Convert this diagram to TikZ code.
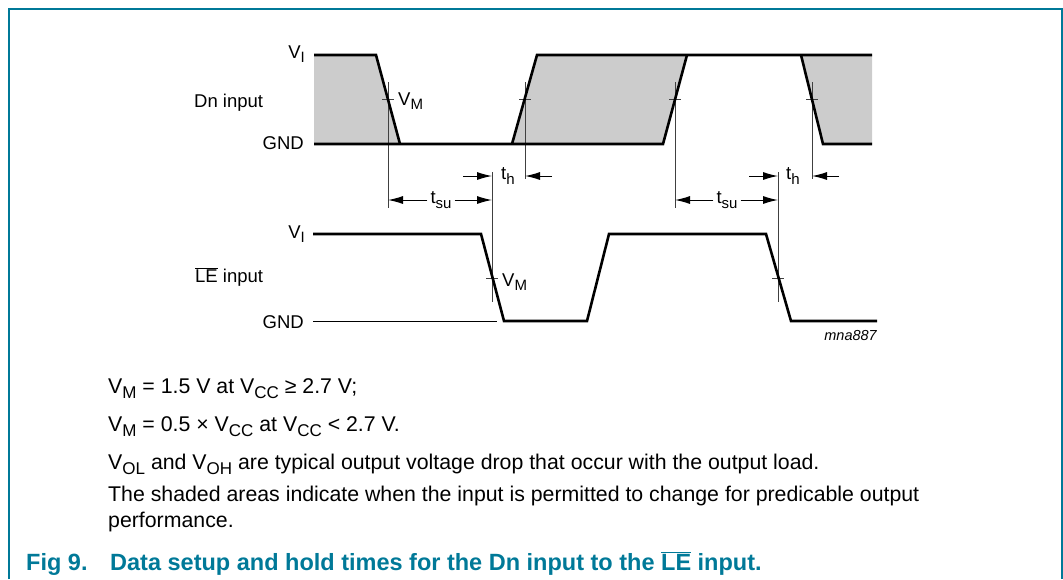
\documentclass[tikz,border=0pt]{standalone}
\usepackage{fontspec}
\setmainfont{Liberation Sans}
\usepackage{xcolor}
\usepackage{tikz}
\usetikzlibrary{arrows,arrows.meta,calc,positioning}
\definecolor{nxpteal}{RGB}{0,121,152}
\definecolor{shadegray}{RGB}{204,204,204}
\newcommand{\lo}[2][15]{\raisebox{-0.45ex}{\fontsize{#1}{#1}\selectfont #2}}
\newcommand{\lebar}{\mbox{$\overline{\mbox{LE}}$}}

\begin{document}
\begin{tikzpicture}[x=1pt,y=-1pt]

        \tikzstyle{every node}=[inner sep=0pt,font=\fontsize{18.5}{21}\selectfont]
        \tikzstyle{wave}=[line width=2.6pt,line join=miter]
        \tikzstyle{vmline}=[line width=0.9pt,black!75]
        \tikzstyle{dim}=[line width=1pt,-{Latex[length=15pt,width=8pt]}]
        \tikzstyle{tlabel}=[inner xsep=3pt]
        \tikzstyle{note}=[anchor=base west,font=\fontsize{21.3}{26}\selectfont]
        \tikzstyle{caption}=[anchor=base west,text=nxpteal,font=\fontsize{23.5}{26}\selectfont\bfseries]

        \useasboundingbox (0,0) rectangle (1063,579);
        \draw[nxpteal,line width=2pt] (8.5,579) -- (8.5,8.5) -- (1061.5,8.5) -- (1061.5,579);

        % Dn input
        \fill[shadegray] (314,55) -- (376,55) -- (400,144) -- (314,144) -- cycle;
        \fill[shadegray] (512,144) -- (537,55) -- (687,55) -- (663,144) -- cycle;
        \fill[shadegray] (801,55) -- (872,55) -- (872,144) -- (823,144) -- cycle;

        \coordinate (dA) at (388,99);
        \coordinate (dB) at (525,99);
        \coordinate (dC) at (675,99);
        \coordinate (dD) at (812,99);
        \foreach \m/\e in {dA/208,dB/179,dC/208,dD/179} {
          \draw[vmline] (\m) ++(0,-17) -- (\m |- 0,\e);
          \draw[vmline] (\m) ++(-6,0) -- ++(12,0);
        }

        \draw[wave] (314,55) -- (376,55) -- (400,144);
        \draw[wave] (314,144) -- (663,144) -- (687,55);
        \draw[wave] (512,144) -- (537,55) -- (872,55);
        \draw[wave] (801,55) -- (823,144) -- (872,144);

        \node[anchor=base east] (viA) at (305,58) {V\lo{I}};
        \node[anchor=base east] (gndA) at (304,149) {GND};
        \node[anchor=base west] (dn) at (194,107) {Dn input};
        \node[anchor=base west] (vmA) at (398,105) {V\lo{M}};

        % LE input
        \coordinate (nA) at (492,278);
        \coordinate (nB) at (778,278);
        \foreach \m in {nA,nB} {
          \draw[vmline] (\m) ++(0,-106) -- ++(0,130);
          \draw[vmline] (\m) ++(-6,0) -- ++(12,0);
        }

        \draw[line width=1pt] (313,321) -- (497,321);
        \draw[wave] (313,234) -- (481,234) -- (504,321) -- (587,321) -- (609,234)
          -- (766,234) -- (791,321) -- (877,321);

        \node[anchor=base east] (viB) at (305,238) {V\lo{I}};
        \node[anchor=base east] (gndB) at (304,328) {GND};
        \node[anchor=base west] (le) at (195,282) {\lebar{} input};
        \node[anchor=base west] (vmB) at (502,286) {V\lo{M}};
        \node[anchor=base east,font=\fontsize{14.5}{16}\selectfont\itshape] (fid) at (877,340) {mna887};

        % setup and hold times
        \node[tlabel] (tsuA) at (441,200) {t\lo{su}};
        \node[tlabel] (tsuB) at (727,200) {t\lo{su}};
        \draw[dim] (tsuA.west) -- (dA |- tsuA.west);
        \draw[dim] (tsuA.east) -- (nA |- tsuA.east);
        \draw[dim] (tsuB.west) -- (dC |- tsuB.west);
        \draw[dim] (tsuB.east) -- (nB |- tsuB.east);

        \node[anchor=west] (thA) at (501,176) {t\lo{h}};
        \node[anchor=west] (thB) at (786,176) {t\lo{h}};
        \draw[dim] ($(nA |- thA)+(-29,0)$) -- (nA |- thA);
        \draw[dim] ($(dB |- thA)+(27,0)$) -- (dB |- thA);
        \draw[dim] ($(nB |- thB)+(-29,0)$) -- (nB |- thB);
        \draw[dim] ($(dD |- thB)+(27,0)$) -- (dD |- thB);

        % notes
        \node[note] (noteA) at (108,393) {V\lo[17]{M} = 1.5 V at V\lo[17]{CC} ≥ 2.7 V;};
        \node[note] (noteB) at (108,431) {V\lo[17]{M} = 0.5 × V\lo[17]{CC} at V\lo[17]{CC} < 2.7 V.};
        \node[note] (noteC) at (108,469) {V\lo[17]{OL} and V\lo[17]{OH} are typical output voltage drop that occur with the output load.};
        \node[note] (noteD) at (108,501) {The shaded areas indicate when the input is permitted to change for predicable output};
        \node[note] (noteE) at (108,527) {performance.};

        \node[caption] (figno) at (26,570) {Fig 9.};
        \node[caption] (figcap) at (110,570) {Data setup and hold times for the Dn input to the \lebar{} input.};
      \end{tikzpicture}
\end{document}
